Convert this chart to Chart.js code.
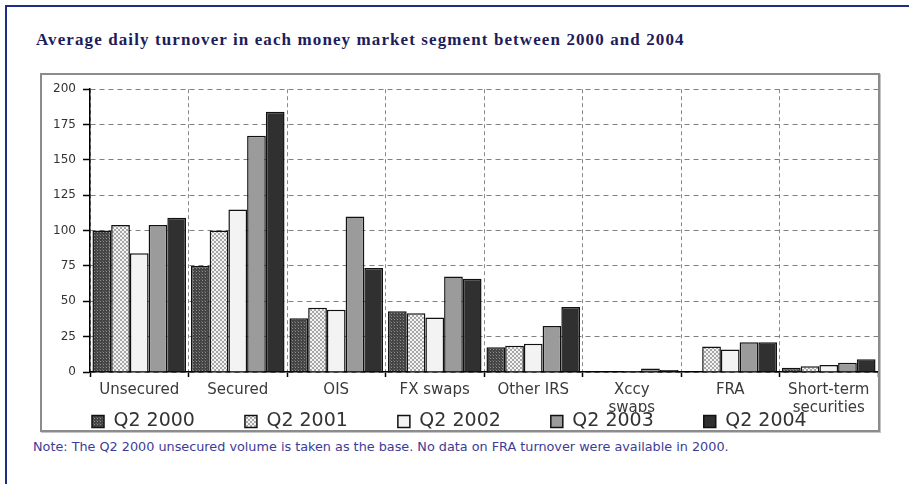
<!DOCTYPE html>
<html><head><meta charset="utf-8">
<script src="https://cdn.jsdelivr.net/npm/chart.js@4.4.1/dist/chart.umd.min.js"></script>
<style>
html,body{margin:0;padding:0;background:#fff;}
body{width:909px;height:484px;position:relative;overflow:hidden;font-family:"DejaVu Sans",sans-serif;}
#edge{position:absolute;left:5px;top:5px;width:904px;height:479px;border-top:2px solid #1e2d88;border-left:2px solid #1e2d88;}
#title{position:absolute;left:36px;top:31px;font-family:"Liberation Serif",serif;font-weight:bold;font-size:17px;letter-spacing:1.1px;line-height:18px;color:#1d1d5c;white-space:nowrap;}
#frame{position:absolute;left:40px;top:73px;width:836px;height:355px;border:2px solid #8c8c8c;box-shadow:1px 1px 0 #c4c4c4;}
#frame canvas{display:block}
#note{position:absolute;left:33px;top:440px;font-size:12.8px;line-height:14px;color:#3c3c96;white-space:nowrap;}
</style></head><body>
<div id="edge"></div>
<div id="title">Average daily turnover in each money market segment between 2000 and 2004</div>
<div id="frame"><canvas id="c" width="836" height="355"></canvas></div>
<div id="note">Note: The Q2 2000 unsecured volume is taken as the base. No data on FRA turnover were available in 2000.</div>
<script>
const categories = ["Unsecured", "Secured", "OIS", "FX swaps", "Other IRS", ["Xccy", "swaps"], "FRA", ["Short-term", "securities"]];
const seriesNames = ["Q2 2000", "Q2 2001", "Q2 2002", "Q2 2003", "Q2 2004"];
const q2_2000 = [100, 75, 38, 43, 17.5, 0.5, null, 3];
const q2_2001 = [104, 100, 45.5, 41.5, 18.5, 0.5, 18, 4];
const q2_2002 = [84, 115, 44, 38.5, 20, 0.7, 16, 5];
const q2_2003 = [104, 167, 110, 67.5, 32.5, 2.5, 21, 6.5];
const q2_2004 = [109, 184, 73.5, 66, 46, 1.5, 21, 9];
const yTicks = [0, 25, 50, 75, 100, 125, 150, 175, 200];

const canvas = document.getElementById('c');
const ctx = canvas.getContext('2d');
function makePattern(size, draw) {
  const c = document.createElement('canvas');
  c.width = size; c.height = size;
  draw(c.getContext('2d'));
  return ctx.createPattern(c, 'repeat');
}
const pat2000 = makePattern(3, g => {
  g.fillStyle = '#444'; g.fillRect(0, 0, 3, 3);
  g.fillStyle = '#8e8e8e'; g.fillRect(1, 1, 1, 1);
  g.fillStyle = '#646464'; g.fillRect(0, 0, 1, 1);
});
const pat2001 = makePattern(4, g => {
  g.fillStyle = '#a6a6a6'; g.fillRect(0, 0, 4, 4);
  g.fillStyle = '#f4f4f4'; g.fillRect(0, 0, 2, 2); g.fillRect(2, 2, 2, 2);
});
const fills = [pat2000, pat2001, '#f3f3f3', '#9b9b9b', '#303030'];
const seriesValues = [q2_2000, q2_2001, q2_2002, q2_2003, q2_2004];

const legendShift = {
  id: 'legendShift',
  afterUpdate(chart) {
    const lg = chart.legend;
    if (lg) { lg.top = 337 - lg.options.labels.padding; }
  }
};

new Chart(canvas, {
  type: 'bar',
  data: {
    labels: categories,
    datasets: seriesNames.map((n, i) => ({
      label: n,
      data: seriesValues[i],
      backgroundColor: fills[i],
      borderColor: '#111',
      borderWidth: 1.5,
      categoryPercentage: 0.95,
      barPercentage: 1.0
    }))
  },
  options: {
    responsive: false,
    maintainAspectRatio: false,
    devicePixelRatio: 1,
    animation: false,
    layout: { padding: { top: 11, right: 0, left: 0, bottom: 0 } },
    plugins: {
      tooltip: { enabled: false },
      legend: {
        position: 'bottom',
        align: 'start',
        maxHeight: 18,
        labels: {
          boxWidth: 12, boxHeight: 12, padding: 50,
          color: '#333',
          font: { family: 'DejaVu Sans', size: 19 }
        }
      }
    },
    scales: {
      x: {
        grid: { offset: true, color: '#8a8a8a', lineWidth: 1, tickLength: 5, tickColor: '#000', tickWidth: 1.5 },
        border: { display: true, color: '#000', width: 1.5, dash: [4, 3] },
        ticks: { color: '#3a3a3a', font: { family: 'DejaVu Sans', size: 15 }, padding: 4, maxRotation: 0, autoSkip: false },
        afterFit: s => { s.height = 40; }
      },
      y: {
        min: 0, max: 200,
        afterBuildTicks: s => { s.ticks = yTicks.map(v => ({ value: v })); },
        grid: { color: '#808080', lineWidth: 1, tickLength: 7, tickColor: '#000', tickWidth: 1.5 },
        border: { display: true, color: '#000', width: 1.5, dash: [5, 4] },
        ticks: { color: '#333', font: { family: 'DejaVu Sans', size: 12 }, padding: 7 },
        afterFit: s => { s.width = 48; }
      }
    }
  },
  plugins: [legendShift]
});
</script>
</body></html>
